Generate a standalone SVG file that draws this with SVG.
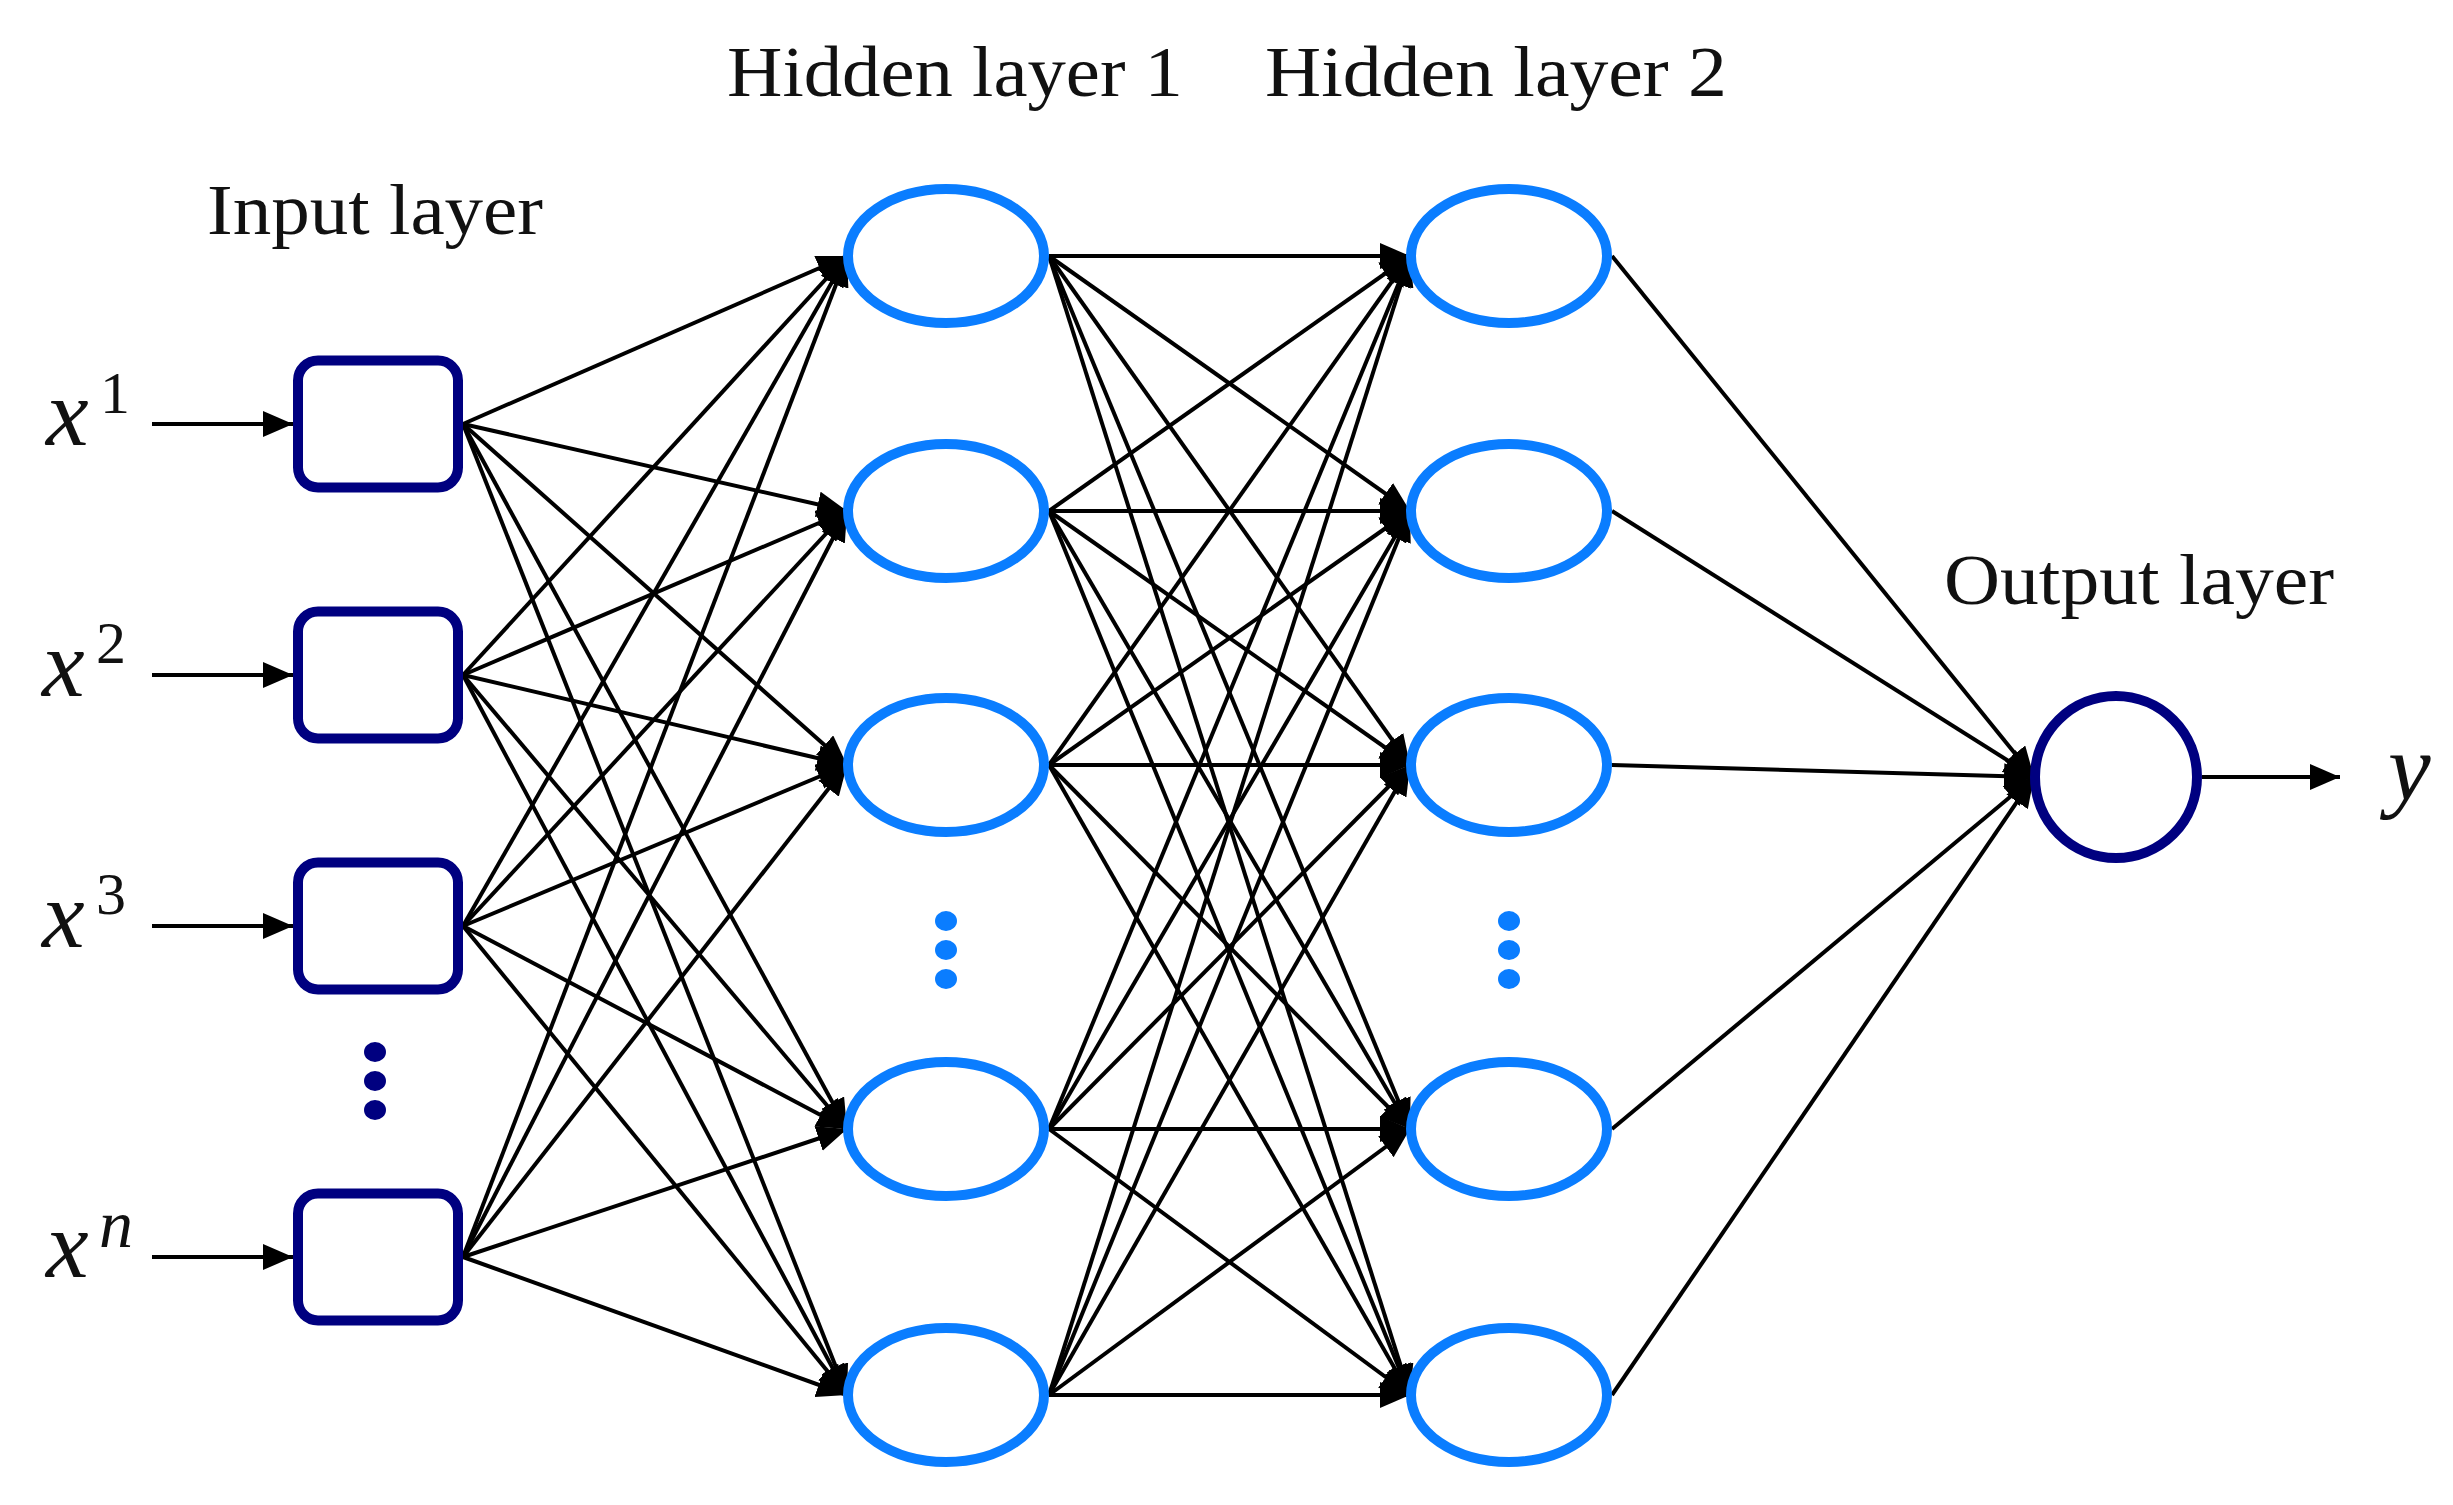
<svg xmlns="http://www.w3.org/2000/svg" width="2453" height="1505" viewBox="0 0 2453 1505">
<style>
.lbl{font-family:"Liberation Serif","Times New Roman",serif;font-size:72px;fill:#111}
.var{font-family:"Liberation Serif","Times New Roman",serif;font-style:italic;font-size:96px;fill:#111}
.sup{font-family:"Liberation Serif","Times New Roman",serif;font-size:60px;fill:#111}
.supi{font-family:"Liberation Serif","Times New Roman",serif;font-style:italic;font-size:68px;fill:#111}
.box{fill:#fff;stroke:#000080;stroke-width:10}
.hid{fill:#fff;stroke:#0A7DFF;stroke-width:10}
.out{fill:#fff;stroke:#000080;stroke-width:10}
.dotb{fill:#0A7DFF}
.dotn{fill:#000080}
.c{stroke:#000;stroke-width:4;fill:none;marker-end:url(#ah)}
</style>
<defs>
<marker id="ah" markerUnits="userSpaceOnUse" markerWidth="30" markerHeight="26" refX="30" refY="13" orient="auto">
<path d="M0,0 L30,13 L0,26 Z" fill="#000"/>
</marker>
</defs>
<rect width="2453" height="1505" fill="#fff"/>
<g id="labels">
<text class="lbl" x="207" y="234" textLength="336" lengthAdjust="spacingAndGlyphs">Input layer</text>
<text class="lbl" x="727" y="96" textLength="456" lengthAdjust="spacingAndGlyphs">Hidden layer 1</text>
<text class="lbl" x="1265" y="96" textLength="462" lengthAdjust="spacingAndGlyphs">Hidden layer 2</text>
<text class="lbl" x="1944" y="604" textLength="390" lengthAdjust="spacingAndGlyphs">Output layer</text>
</g>
<g id="connectors">
<line class="c" x1="152" y1="424" x2="293" y2="424"/>
<line class="c" x1="152" y1="675" x2="293" y2="675"/>
<line class="c" x1="152" y1="926" x2="293" y2="926"/>
<line class="c" x1="152" y1="1257" x2="293" y2="1257"/>
<line class="c" x1="2202" y1="777" x2="2340" y2="777"/>
<line class="c" x1="463" y1="424" x2="847" y2="256"/>
<line class="c" x1="463" y1="424" x2="847" y2="511"/>
<line class="c" x1="463" y1="424" x2="847" y2="765"/>
<line class="c" x1="463" y1="424" x2="847" y2="1129"/>
<line class="c" x1="463" y1="424" x2="847" y2="1395"/>
<line class="c" x1="463" y1="675" x2="847" y2="256"/>
<line class="c" x1="463" y1="675" x2="847" y2="511"/>
<line class="c" x1="463" y1="675" x2="847" y2="765"/>
<line class="c" x1="463" y1="675" x2="847" y2="1129"/>
<line class="c" x1="463" y1="675" x2="847" y2="1395"/>
<line class="c" x1="463" y1="926" x2="847" y2="256"/>
<line class="c" x1="463" y1="926" x2="847" y2="511"/>
<line class="c" x1="463" y1="926" x2="847" y2="765"/>
<line class="c" x1="463" y1="926" x2="847" y2="1129"/>
<line class="c" x1="463" y1="926" x2="847" y2="1395"/>
<line class="c" x1="463" y1="1257" x2="847" y2="256"/>
<line class="c" x1="463" y1="1257" x2="847" y2="511"/>
<line class="c" x1="463" y1="1257" x2="847" y2="765"/>
<line class="c" x1="463" y1="1257" x2="847" y2="1129"/>
<line class="c" x1="463" y1="1257" x2="847" y2="1395"/>
<line class="c" x1="1049" y1="256" x2="1410" y2="256"/>
<line class="c" x1="1049" y1="256" x2="1410" y2="511"/>
<line class="c" x1="1049" y1="256" x2="1410" y2="765"/>
<line class="c" x1="1049" y1="256" x2="1410" y2="1129"/>
<line class="c" x1="1049" y1="256" x2="1410" y2="1395"/>
<line class="c" x1="1049" y1="511" x2="1410" y2="256"/>
<line class="c" x1="1049" y1="511" x2="1410" y2="511"/>
<line class="c" x1="1049" y1="511" x2="1410" y2="765"/>
<line class="c" x1="1049" y1="511" x2="1410" y2="1129"/>
<line class="c" x1="1049" y1="511" x2="1410" y2="1395"/>
<line class="c" x1="1049" y1="765" x2="1410" y2="256"/>
<line class="c" x1="1049" y1="765" x2="1410" y2="511"/>
<line class="c" x1="1049" y1="765" x2="1410" y2="765"/>
<line class="c" x1="1049" y1="765" x2="1410" y2="1129"/>
<line class="c" x1="1049" y1="765" x2="1410" y2="1395"/>
<line class="c" x1="1049" y1="1129" x2="1410" y2="256"/>
<line class="c" x1="1049" y1="1129" x2="1410" y2="511"/>
<line class="c" x1="1049" y1="1129" x2="1410" y2="765"/>
<line class="c" x1="1049" y1="1129" x2="1410" y2="1129"/>
<line class="c" x1="1049" y1="1129" x2="1410" y2="1395"/>
<line class="c" x1="1049" y1="1395" x2="1410" y2="256"/>
<line class="c" x1="1049" y1="1395" x2="1410" y2="511"/>
<line class="c" x1="1049" y1="1395" x2="1410" y2="765"/>
<line class="c" x1="1049" y1="1395" x2="1410" y2="1129"/>
<line class="c" x1="1049" y1="1395" x2="1410" y2="1395"/>
<line class="c" x1="1612" y1="256" x2="2034" y2="777"/>
<line class="c" x1="1612" y1="511" x2="2034" y2="777"/>
<line class="c" x1="1612" y1="765" x2="2034" y2="777"/>
<line class="c" x1="1612" y1="1129" x2="2034" y2="777"/>
<line class="c" x1="1612" y1="1395" x2="2034" y2="777"/>
</g>
<g id="in1"><rect class="box" x="298" y="360.5" width="160" height="127" rx="20"/><text class="var" x="46" y="445">x</text><text class="sup" x="100" y="413">1</text></g>
<g id="in2"><rect class="box" x="298" y="611.5" width="160" height="127" rx="20"/><text class="var" x="42" y="696">x</text><text class="sup" x="96" y="663">2</text></g>
<g id="in3"><rect class="box" x="298" y="862.5" width="160" height="127" rx="20"/><text class="var" x="42" y="947">x</text><text class="sup" x="96" y="914">3</text></g>
<g id="in-dots"><ellipse class="dotn" cx="375" cy="1052" rx="11" ry="10"/><ellipse class="dotn" cx="375" cy="1081" rx="11" ry="10"/><ellipse class="dotn" cx="375" cy="1110" rx="11" ry="10"/></g>
<g id="inN"><rect class="box" x="298" y="1193.5" width="160" height="127" rx="20"/><text class="var" x="46" y="1277">x</text><text class="supi" x="99" y="1247">n</text></g>
<g id="h1-1"><ellipse class="hid" cx="946" cy="256" rx="98" ry="67"/></g>
<g id="h1-2"><ellipse class="hid" cx="946" cy="511" rx="98" ry="67"/></g>
<g id="h1-3"><ellipse class="hid" cx="946" cy="765" rx="98" ry="67"/></g>
<g id="h1-dots"><ellipse class="dotb" cx="946" cy="921" rx="11" ry="10"/><ellipse class="dotb" cx="946" cy="950" rx="11" ry="10"/><ellipse class="dotb" cx="946" cy="979" rx="11" ry="10"/></g>
<g id="h1-4"><ellipse class="hid" cx="946" cy="1129" rx="98" ry="67"/></g>
<g id="h1-5"><ellipse class="hid" cx="946" cy="1395" rx="98" ry="67"/></g>
<g id="h2-1"><ellipse class="hid" cx="1509" cy="256" rx="98" ry="67"/></g>
<g id="h2-2"><ellipse class="hid" cx="1509" cy="511" rx="98" ry="67"/></g>
<g id="h2-3"><ellipse class="hid" cx="1509" cy="765" rx="98" ry="67"/></g>
<g id="h2-dots"><ellipse class="dotb" cx="1509" cy="921" rx="11" ry="10"/><ellipse class="dotb" cx="1509" cy="950" rx="11" ry="10"/><ellipse class="dotb" cx="1509" cy="979" rx="11" ry="10"/></g>
<g id="h2-4"><ellipse class="hid" cx="1509" cy="1129" rx="98" ry="67"/></g>
<g id="h2-5"><ellipse class="hid" cx="1509" cy="1395" rx="98" ry="67"/></g>
<g id="output"><circle class="out" cx="2116" cy="777" r="81"/><text class="var" x="2388" y="800">y</text></g>
</svg>
